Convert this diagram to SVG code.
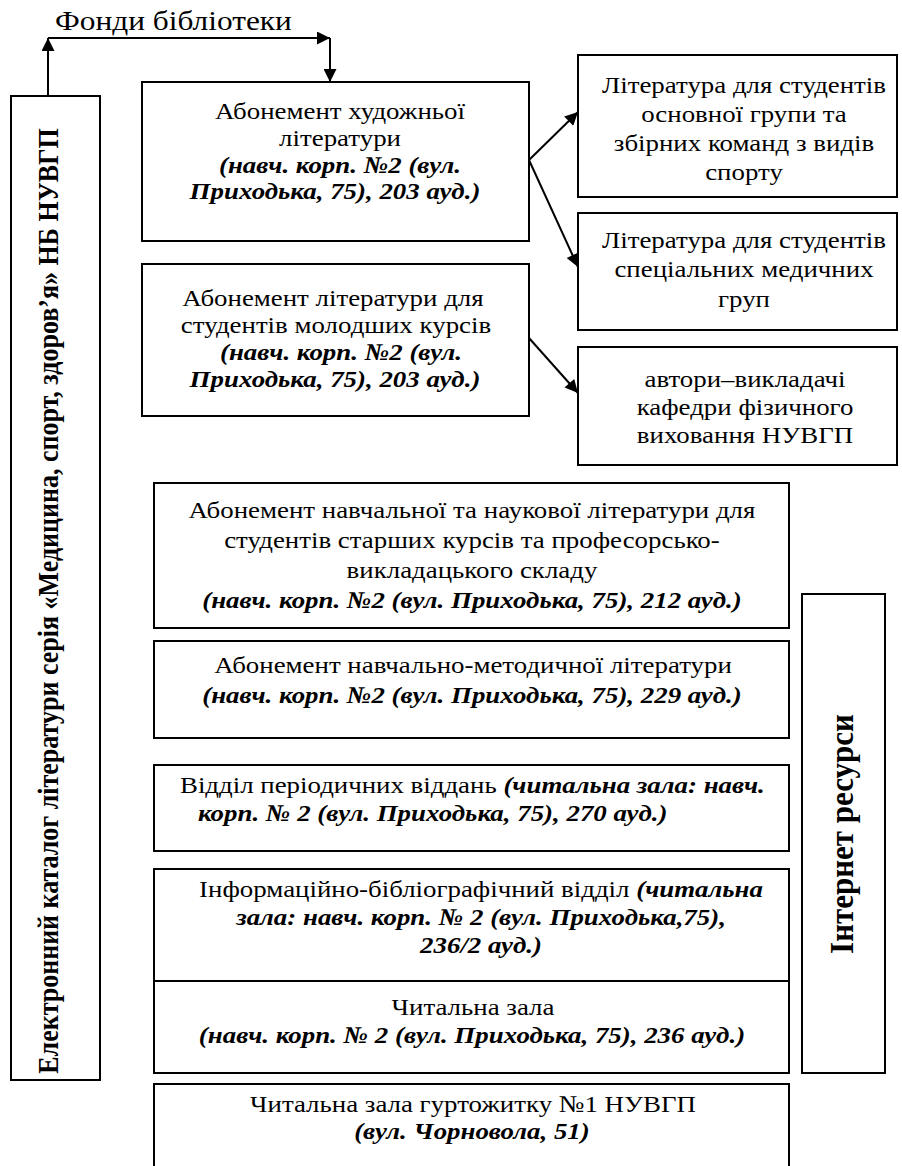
<svg xmlns="http://www.w3.org/2000/svg" width="902" height="1166" viewBox="0 0 902 1166">
  <defs>
    <marker id="arrow" viewBox="0 0 10 10" refX="10" refY="5" markerWidth="7.5" markerHeight="6.5" markerUnits="strokeWidth" orient="auto">
      <path d="M0,0 L10,5 L0,10 Z" fill="#000"/>
    </marker>
    <style>
      .box { fill: #fff; stroke: #000; stroke-width: 2; }
      text { font-family: "Liberation Serif", "Times New Roman", serif; font-size: 24px; fill: #000; }
      .c { text-anchor: middle; }
      .bi { font-weight: bold; font-style: italic; }
      .vb { font-weight: bold; text-anchor: middle; }
      .conn { stroke: #000; stroke-width: 2; fill: none; marker-end: url(#arrow); }
    </style>
  </defs>
  <rect width="902" height="1166" fill="#fff"/>

  <!-- connectors -->
  <g id="connectors">
    <line class="conn" x1="48" y1="96" x2="48" y2="38"/>
    <line class="conn" x1="48" y1="38" x2="330" y2="38"/>
    <line class="conn" x1="330" y1="38" x2="330" y2="82"/>
    <line class="conn" x1="529" y1="160" x2="578" y2="112"/>
    <line class="conn" x1="529" y1="160" x2="578" y2="267"/>
    <line class="conn" x1="529" y1="338" x2="578" y2="393"/>
  </g>

  <!-- left column: electronic catalogue -->
  <g id="catalog">
    <rect class="box" x="11" y="96" width="89" height="984"/>
    <text class="vb" transform="translate(58,601) scale(1.12,1) rotate(-90)" style="font-size:26px">Електронний каталог літератури серія «Медицина, спорт, здоров’я» НБ НУВГП</text>
  </g>

  <g id="fiction">
    <rect class="box" x="142" y="82" width="387" height="159"/>
  </g>
  <g id="junior">
    <rect class="box" x="142" y="264" width="387" height="152"/>
  </g>
  <g id="main-group">
    <rect class="box" x="578" y="55" width="319" height="142"/>
  </g>
  <g id="medical-group">
    <rect class="box" x="578" y="213" width="319" height="117"/>
  </g>
  <g id="authors">
    <rect class="box" x="578" y="347" width="319" height="118"/>
  </g>
  <g id="senior">
    <rect class="box" x="154" y="483" width="635" height="145"/>
  </g>
  <g id="methodical">
    <rect class="box" x="154" y="641" width="635" height="97"/>
  </g>
  <g id="periodicals">
    <rect class="box" x="154" y="765" width="635" height="86"/>
  </g>
  <g id="bibliographic">
    <rect class="box" x="154" y="869" width="635" height="112"/>
  </g>
  <g id="reading-room">
    <rect class="box" x="154" y="981" width="635" height="92"/>
  </g>
  <g id="dormitory">
    <rect class="box" x="154" y="1084" width="635" height="90"/>
  </g>
  <g id="internet">
    <rect class="box" x="802" y="594" width="83" height="479"/>
    <text class="vb" transform="translate(853,834) scale(1.12,1) rotate(-90)" style="font-size:31px">Інтернет ресурси</text>
  </g>

  <!-- horizontal labels, set in a widened face (x positions divided by 1.12) -->
  <g id="labels" transform="scale(1.12,1)">
    <text id="heading" x="49.1" y="30" style="font-size:28px">Фонди бібліотеки</text>

    <g id="fiction-label">
      <text class="c" x="303.6" y="119">Абонемент художньої</text>
      <text class="c" x="303.6" y="146">літератури</text>
      <text class="c bi" x="303.6" y="173">(навч. корп. №2 (вул.</text>
      <text class="c bi" x="299.1" y="199">Приходька, 75), 203 ауд.)</text>
    </g>

    <g id="junior-label">
      <text class="c" x="297.3" y="306">Абонемент літератури для</text>
      <text class="c" x="300" y="333">студентів молодших курсів</text>
      <text class="c bi" x="304.5" y="360">(навч. корп. №2 (вул.</text>
      <text class="c bi" x="299.1" y="387">Приходька, 75), 203 ауд.)</text>
    </g>

    <g id="main-group-label">
      <text class="c" x="664.3" y="93">Література для студентів</text>
      <text class="c" x="664.3" y="122">основної групи та</text>
      <text class="c" x="664.3" y="151">збірних команд з видів</text>
      <text class="c" x="664.3" y="180">спорту</text>
    </g>

    <g id="medical-group-label">
      <text class="c" x="664.3" y="248">Література для студентів</text>
      <text class="c" x="664.3" y="277">спеціальних медичних</text>
      <text class="c" x="664.3" y="307">груп</text>
    </g>

    <g id="authors-label">
      <text class="c" x="665.2" y="387">автори–викладачі</text>
      <text class="c" x="665.2" y="415">кафедри фізичного</text>
      <text class="c" x="665.2" y="443">виховання НУВГП</text>
    </g>

    <g id="senior-label">
      <text class="c" x="421.4" y="518">Абонемент навчальної та наукової літератури для</text>
      <text class="c" x="421.4" y="548">студентів старших курсів та професорсько-</text>
      <text class="c" x="421.4" y="578">викладацького складу</text>
      <text class="c bi" x="421.4" y="608">(навч. корп. №2 (вул. Приходька, 75), 212 ауд.)</text>
    </g>

    <g id="methodical-label">
      <text class="c" x="422.3" y="673">Абонемент навчально-методичної літератури</text>
      <text class="c bi" x="421.4" y="703">(навч. корп. №2 (вул. Приходька, 75), 229 ауд.)</text>
    </g>

    <g id="periodicals-label">
      <text x="160.7" y="793">Відділ періодичних віддань <tspan class="bi">(читальна зала: навч.</tspan></text>
      <text class="bi" x="176.8" y="821">корп. № 2 (вул. Приходька, 75), 270 ауд.)</text>
    </g>

    <g id="bibliographic-label">
      <text class="c" x="429.5" y="897">Інформаційно-бібліографічний відділ <tspan class="bi">(читальна</tspan></text>
      <text class="c bi" x="429.5" y="925">зала: навч. корп. № 2 (вул. Приходька,75),</text>
      <text class="c bi" x="429.5" y="953">236/2 ауд.)</text>
    </g>

    <g id="reading-room-label">
      <text class="c" x="422.3" y="1015">Читальна зала</text>
      <text class="c bi" x="421.4" y="1043">(навч. корп. № 2 (вул. Приходька, 75), 236 ауд.)</text>
    </g>

    <g id="dormitory-label">
      <text class="c" x="422.3" y="1112">Читальна зала гуртожитку №1 НУВГП</text>
      <text class="c bi" x="421.4" y="1139">(вул. Чорновола, 51)</text>
    </g>
  </g>
</svg>
